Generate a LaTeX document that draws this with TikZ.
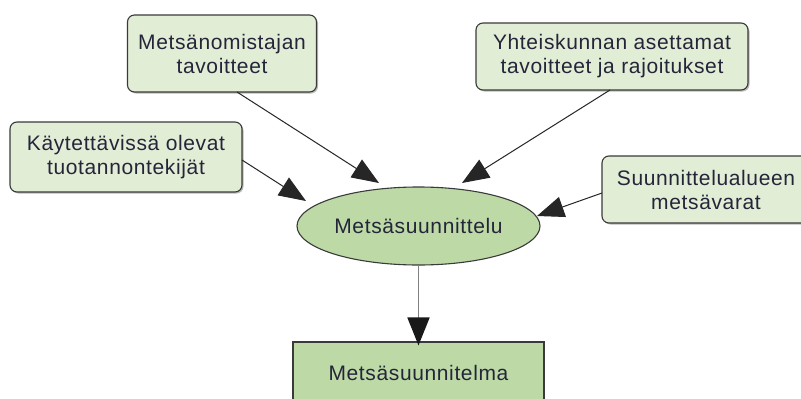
\documentclass[tikz,border=0pt]{standalone}
\usepackage{fontspec}
\setmainfont{Liberation Sans}[LetterSpace=3]
\usetikzlibrary{arrows.meta,shapes.geometric,shadows}
\definecolor{boxfill}{HTML}{E2EDD6}
\definecolor{ovalfill}{HTML}{BDDAA6}
\definecolor{edge}{HTML}{3A3A3A}
\definecolor{txt}{HTML}{25253A}
\begin{document}
\begin{tikzpicture}[x=1pt,y=-1pt,
  every node/.style={font=\fontsize{21}{24}\selectfont, text=txt},
  infobox/.style={draw=edge, line width=1.1pt, fill=boxfill, rounded corners=7pt,
    align=center, inner sep=0pt,
    drop shadow={shadow xshift=1.5pt, shadow yshift=-1.5pt, fill=black!45, opacity=0.6}},
  oval/.style={ellipse, draw=edge, line width=1.1pt, fill=ovalfill, inner sep=0pt,
    minimum width=243pt, minimum height=78pt},
  result/.style={draw=edge, line width=1.1pt, fill=ovalfill, inner sep=0pt},
  flow/.style={draw=black!85, line width=1pt, -{Triangle[length=27pt,width=21pt]}},
  downflow/.style={draw=black!50, line width=1.8pt,
    -{Triangle[length=28pt,width=22pt,color=black!90,fill=black!90]}}
]
\useasboundingbox (0,0) rectangle (801,399);
\fill[white] (0,0) rectangle (801,399);

\node[infobox, minimum width=189pt, minimum height=77pt] (owner) at (222,53.5)
  {Metsänomistajan\\tavoitteet};
\node[infobox, minimum width=272pt, minimum height=67pt] (society) at (612,56.5)
  {Yhteiskunnan asettamat\\tavoitteet ja rajoitukset};
\node[infobox, minimum width=232pt, minimum height=70pt] (factors) at (126,157)
  {Käytettävissä olevat\\tuotannontekijät};
\node[infobox, minimum width=208pt, minimum height=67pt] (resources) at (706,189.5)
  {Suunnittelualueen\\metsävarat};
\node[oval] (plan) at (418.5,226) {Metsäsuunnittelu};
\node[result, minimum width=251pt, minimum height=62pt] (result) at (418.5,373)
  {Metsäsuunnitelma};

\coordinate (a1s) at (237,92);
\coordinate (a2s) at (610,90);
\coordinate (a3s) at (242,160);
\coordinate (a4s) at (602,193);
\draw[flow] (a1s) -- (379,183);
\draw[flow] (a2s) -- (462,183);
\draw[flow] (a3s) -- (306,201);
\draw[flow] (a4s) -- (537,216);
\draw[downflow] (plan.south) -- ([yshift=-4pt]result.north);
\end{tikzpicture}
\end{document}
